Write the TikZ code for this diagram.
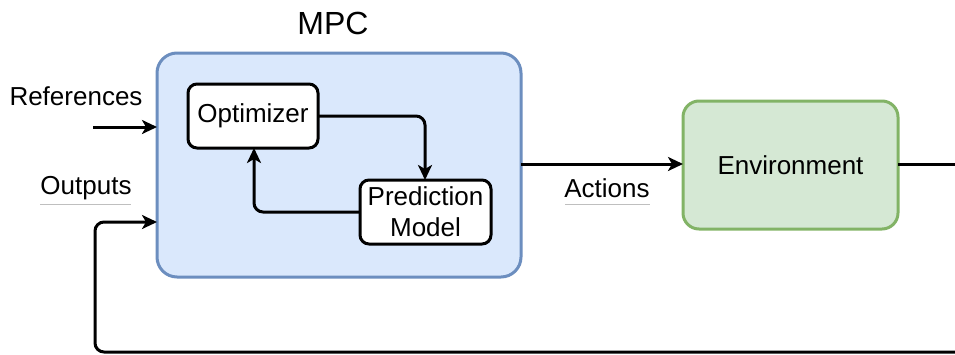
\documentclass[tikz,border=0pt]{standalone}
\usepackage{fontspec}
\setmainfont{Liberation Sans}
\usetikzlibrary{arrows.meta}
\definecolor{mpcfill}{HTML}{DAE8FC}
\definecolor{mpcdraw}{HTML}{6C8EBF}
\definecolor{envfill}{HTML}{D5E8D4}
\definecolor{envdraw}{HTML}{82B366}
\tikzset{
  lbl/.style={font=\fontsize{26}{30}\selectfont, inner sep=0pt},
  inbox/.style={draw=black, fill=white, line width=3pt, rounded corners=9pt},
  conn/.style={line width=3pt, rounded corners=9pt, -{Stealth[length=15pt,width=14pt,inset=4pt]}},
  plain/.style={line width=3pt, rounded corners=9pt},
  uline/.style={draw=black!25, line width=0.8pt}
}
\begin{document}
\begin{tikzpicture}[x=1pt,y=-1pt]
\useasboundingbox (0,0) rectangle (955,354);
% MPC box
\draw[fill=mpcfill, draw=mpcdraw, line width=3pt, rounded corners=20pt] (157,53) rectangle (521,277);
\node[lbl, font=\fontsize{32}{36}\selectfont] (mpclabel) at (333,23) {MPC};
% inner boxes
\draw[inbox] (188,84) rectangle (318,148);
\node[lbl] (opt) at (253,116) {Optimizer};
\draw[inbox] (360,180) rectangle (491,244);
\node[lbl, align=center, font=\fontsize{26}{31}\selectfont] (pred) at (425.5,212) {Prediction\\Model};
\coordinate (optE) at (318,116);
\coordinate (optS) at (254,148);
\coordinate (predN) at (425,180);
\coordinate (predW) at (360,212);
\draw[conn] (optE) -| (predN);
\draw[conn] (predW) -| (optS);
% environment
\draw[fill=envfill, draw=envdraw, line width=3pt, rounded corners=16pt] (683,101) rectangle (898,229);
\node[lbl] (env) at (790.5,165) {Environment};
% connectors
\coordinate (mpcE) at (521,164);
\coordinate (envW) at (683,164);
\coordinate (envE) at (898,164);
\coordinate (rightEdge) at (956,164);
\draw[conn] (mpcE) -- (envW);
\draw[plain] (envE) -- (rightEdge);
\coordinate (refStart) at (93,127);
\coordinate (mpcRef) at (157,127);
\draw[conn] (refStart) -- (mpcRef);
\coordinate (fbStart) at (956,352);
\coordinate (fbCorner) at (95,352);
\coordinate (mpcOut) at (157,222);
\draw[conn] (fbStart) -- (fbCorner) |- (mpcOut);
% labels
\node[lbl] (refs) at (76,96) {References};
\node[lbl] (outs) at (86,188) {Outputs};
\draw[uline] (40,204) -- (131,204);
\node[lbl] (acts) at (607,188) {Actions};
\draw[uline] (565,204) -- (650,204);
\end{tikzpicture}
\end{document}
